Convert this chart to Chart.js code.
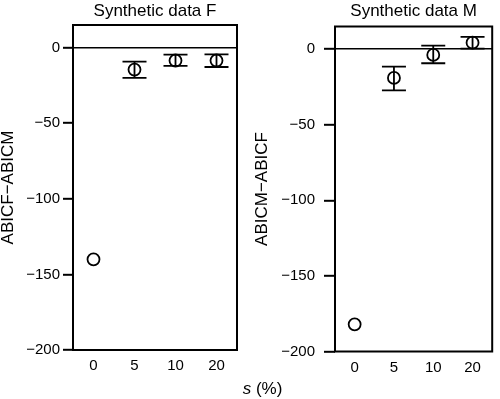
<!DOCTYPE html>
<html lang="en">
<head>
<meta charset="UTF-8">
<title>Synthetic data ABIC differences</title>
<script src="https://cdn.jsdelivr.net/npm/chart.js"></script>
<style>
  body { margin: 0; background: #fff; }
  #wrap { position: relative; width: 500px; height: 399px; font-family: 'Liberation Sans', Arial, sans-serif; }
  .panel { position: absolute; top: 0; width: 250px; height: 399px; }
  #xlabel { position: absolute; left: 212px; width: 101px; top: 379px; text-align: center; font-size: 17px; color: #000; }
</style>
</head>
<body>
<div id="wrap">
  <div class="panel" style="left:0"><canvas id="chartF"></canvas></div>
  <div class="panel" style="left:250px"><canvas id="chartM"></canvas></div>
  <div id="xlabel"><i>s</i> (%)</div>
</div>
<script>
// s (%) categories
const sLabels = ['0', '5', '10', '20'];
const yTicks = [0, -50, -100, -150, -200];

// Synthetic data F : ABICF - ABICM
const meanF = [-140, -14.5, -8.5, -8.5];
const lowF = [null, -20, -12, -12.8];
const highF = [null, -9.2, -4.6, -4.4];

// Synthetic data M : ABICM - ABICF
const meanM = [-182, -19, -3.8, 4.3];
const lowM = [null, -27.2, -9.3, 0.4];
const highM = [null, -11.5, 2.4, 8.1];

const FONT = "'Liberation Sans', Arial, sans-serif";
Chart.defaults.font.family = FONT;
Chart.defaults.color = '#000';

// error bars with caps, through the scales
const errorBars = {
  id: 'errorBars',
  afterDatasetsDraw(chart) {
    const { ctx, scales: { x, y } } = chart;
    const ds = chart.data.datasets[0];
    ctx.save();
    ctx.strokeStyle = '#000';
    ctx.lineWidth = 1.8;
    ds.lows.forEach((lo, i) => {
      if (lo == null) return;
      const px = x.getPixelForValue(i);
      const yl = y.getPixelForValue(lo);
      const yh = y.getPixelForValue(ds.highs[i]);
      ctx.beginPath();
      ctx.moveTo(px, yl); ctx.lineTo(px, yh);
      ctx.moveTo(px - 12, yl); ctx.lineTo(px + 12, yl);
      ctx.moveTo(px - 12, yh); ctx.lineTo(px + 12, yh);
      ctx.stroke();
    });
    ctx.restore();
  }
};

// frame around the plot area
const frame = {
  id: 'frame',
  afterDraw(chart) {
    const { ctx, chartArea: a } = chart;
    ctx.save();
    ctx.strokeStyle = '#000';
    ctx.lineWidth = 2;
    ctx.strokeRect(a.left, a.top, a.right - a.left, a.bottom - a.top);
    ctx.restore();
  }
};

function makePanel(id, title, yTitle, means, lows, highs, g) {
  new Chart(document.getElementById(id), {
    type: 'line',
    data: {
      labels: sLabels,
      datasets: [{
        data: means,
        lows: lows,
        highs: highs,
        showLine: false,
        pointStyle: 'circle',
        pointRadius: 6,
        pointBorderWidth: 1.8,
        pointBorderColor: '#000',
        pointBackgroundColor: 'rgba(255,255,255,0)'
      }]
    },
    options: {
      responsive: true,
      maintainAspectRatio: false,
      animation: false,
      layout: { padding: { left: 0, right: g.padRight, top: 0, bottom: 0 } },
      plugins: {
        legend: { display: false },
        tooltip: { enabled: false },
        title: {
          display: true,
          text: title,
          fullSize: false,
          color: '#000',
          font: { size: 17, weight: 'normal' },
          padding: { top: 1, bottom: g.titleBottom }
        }
      },
      scales: {
        x: {
          type: 'category',
          offset: true,
          grid: { display: false, drawTicks: false },
          border: { display: false },
          ticks: { color: '#000', font: { size: 15 }, padding: 7 },
          afterFit: s => { s.height = g.xHeight; }
        },
        y: {
          min: -200,
          max: 15,
          afterBuildTicks: s => { s.ticks = yTicks.map(v => ({ value: v })); },
          ticks: {
            color: '#000',
            font: { size: 15 },
            padding: g.tickPad,
            callback: v => (v < 0 ? '\u2212' + Math.abs(v) : String(v))
          },
          grid: {
            color: c => (c.tick && c.tick.value === 0 ? '#000' : 'rgba(0,0,0,0)'),
            lineWidth: 1.6,
            tickColor: '#000',
            tickWidth: 2,
            tickLength: g.tickLen
          },
          border: { display: false },
          title: {
            display: true,
            text: yTitle,
            color: '#000',
            font: { size: 17, lineHeight: 1 },
            padding: { top: g.titlePad, bottom: 0 }
          },
          afterFit: s => { s.width = g.yWidth; }
        }
      }
    },
    plugins: [errorBars, frame]
  });
}

makePanel('chartF', 'Synthetic data F', 'ABICF\u2212ABICM', meanF, lowF, highF,
  { padRight: 13, titleBottom: 3.6, xHeight: 49, yWidth: 73, tickLen: 10, tickPad: 3, titlePad: 0 });
makePanel('chartM', 'Synthetic data M', 'ABICM\u2212ABICF', meanM, lowM, highM,
  { padRight: 2, titleBottom: 5.1, xHeight: 47.5, yWidth: 85, tickLen: 11, tickPad: 9, titlePad: 4 });
</script>
</body>
</html>
